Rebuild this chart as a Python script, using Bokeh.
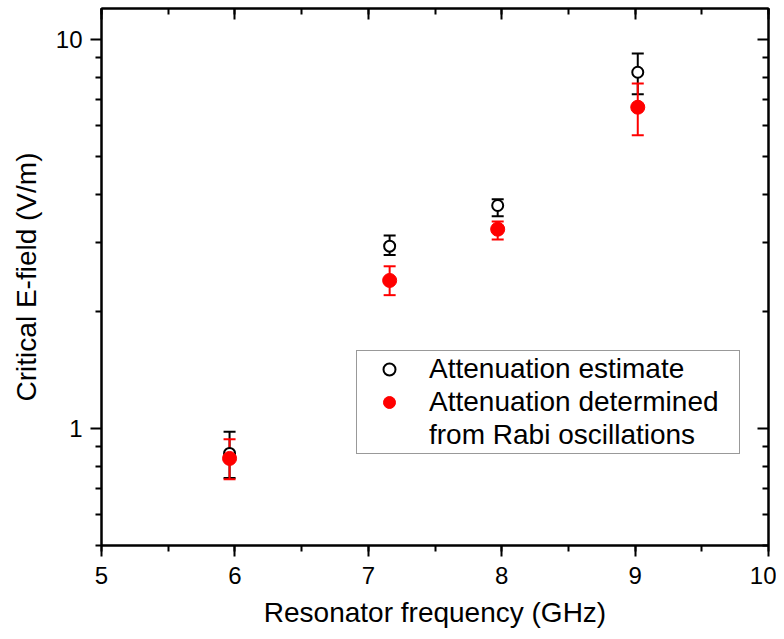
from bokeh.plotting import figure
from bokeh.models import (ColumnDataSource, Whisker, TeeHead, FixedTicker, SingleIntervalTicker,
                          LinearAxis, LogAxis, Legend, LegendItem, PrintfTickFormatter)
from bokeh.embed import file_html
from bokeh.resources import INLINE

# ---- data ----
freq = [5.96, 7.16, 7.97, 9.02]
est = [0.862, 2.94, 3.74, 8.23]
est_lo = [0.745, 2.79, 3.51, 7.22]
est_hi = [0.98, 3.13, 3.88, 9.2]
rabi = [0.837, 2.40, 3.25, 6.69]
rabi_lo = [0.74, 2.20, 3.06, 5.67]
rabi_hi = [0.937, 2.61, 3.40, 7.70]

y_major = [1, 10]
y_minor = [0.5, 0.6, 0.7, 0.8, 0.9, 2, 3, 4, 5, 6, 7, 8, 9]

FONT = "Liberation Sans"

p = figure(width=776, height=631, x_range=(5, 10), y_range=(0.5, 12), y_axis_type="log",
           output_backend="svg", toolbar_location=None,
           min_border_left=101, min_border_right=8, min_border_top=8, min_border_bottom=86)
p.grid.visible = False
p.outline_line_color = "black"
p.outline_line_width = 2
p.background_fill_color = "white"
p.border_fill_color = "white"

def style_axis(ax, labels=True, inward=False):
    ax.axis_line_width = 2
    ax.axis_line_color = "black"
    ax.major_tick_line_width = 2
    ax.minor_tick_line_width = 2
    if inward:
        ax.major_tick_in = 11
        ax.major_tick_out = 0
        ax.minor_tick_in = 6
        ax.minor_tick_out = 0
    else:
        ax.major_tick_in = 0
        ax.major_tick_out = 11
        ax.minor_tick_in = 0
        ax.minor_tick_out = 6
    if labels:
        ax.major_label_text_font = FONT
        ax.major_label_text_font_size = "24px"
        ax.major_label_text_color = "black"
        ax.axis_label_text_font = FONT
        ax.axis_label_text_font_size = "28px"
        ax.axis_label_text_font_style = "normal"
        ax.axis_label_text_color = "black"
    else:
        ax.major_label_text_color = None

xt = SingleIntervalTicker(interval=1, num_minor_ticks=2)
yt = FixedTicker(ticks=y_major, minor_ticks=y_minor)

xa = p.xaxis[0]
xa.ticker = xt
xa.axis_label = "Resonator frequency (GHz)"
xa.major_label_standoff = 10
xa.axis_label_standoff = 10
style_axis(xa)

ya = p.yaxis[0]
ya.ticker = yt
ya.formatter = PrintfTickFormatter(format="%g")
ya.axis_label = "Critical E-field (V/m)"
ya.major_label_standoff = 8
ya.axis_label_standoff = 11
style_axis(ya)

top = LinearAxis(ticker=SingleIntervalTicker(interval=1, num_minor_ticks=2))
style_axis(top, labels=False, inward=True)
p.add_layout(top, "above")
right = LogAxis(ticker=FixedTicker(ticks=y_major, minor_ticks=y_minor))
style_axis(right, labels=False, inward=True)
p.add_layout(right, "right")

src_e = ColumnDataSource(dict(x=freq, y=est, lo=est_lo, hi=est_hi))
src_r = ColumnDataSource(dict(x=freq, y=rabi, lo=rabi_lo, hi=rabi_hi))

def whisk(src, color):
    w = Whisker(source=src, base="x", upper="hi", lower="lo", dimension="height",
                line_color=color, line_width=2,
                upper_head=TeeHead(size=12, line_color=color, line_width=2),
                lower_head=TeeHead(size=12, line_color=color, line_width=2))
    p.add_layout(w)

whisk(src_e, "black")
r_e = p.scatter("x", "y", source=src_e, marker="circle", size=11, fill_color="white",
                line_color="black", line_width=2)
whisk(src_r, "red")
r_r = p.scatter("x", "y", source=src_r, marker="circle", size=14, fill_color="red",
                line_color="red", line_width=1)
r_blank = p.scatter(x=[], y=[], marker="circle", size=0, fill_alpha=0, line_alpha=0)

legend = Legend(items=[
    LegendItem(label="Attenuation estimate", renderers=[r_e]),
    LegendItem(label="Attenuation determined", renderers=[r_r]),
    LegendItem(label="from Rabi oscillations", renderers=[r_blank]),
], location=(255, 91))
legend.label_text_font = FONT
legend.label_text_font_size = "28px"
legend.label_text_color = "black"
legend.glyph_width = 60
legend.glyph_height = 30
legend.label_height = 30
legend.spacing = 1
legend.padding = 2
legend.margin = 0
legend.label_standoff = 10
legend.label_width = 308
legend.border_line_color = "#333333"
legend.border_line_width = 1
legend.background_fill_color = "white"
legend.background_fill_alpha = 1
p.add_layout(legend, "center")

open("out.html", "w").write(file_html(p, INLINE))
